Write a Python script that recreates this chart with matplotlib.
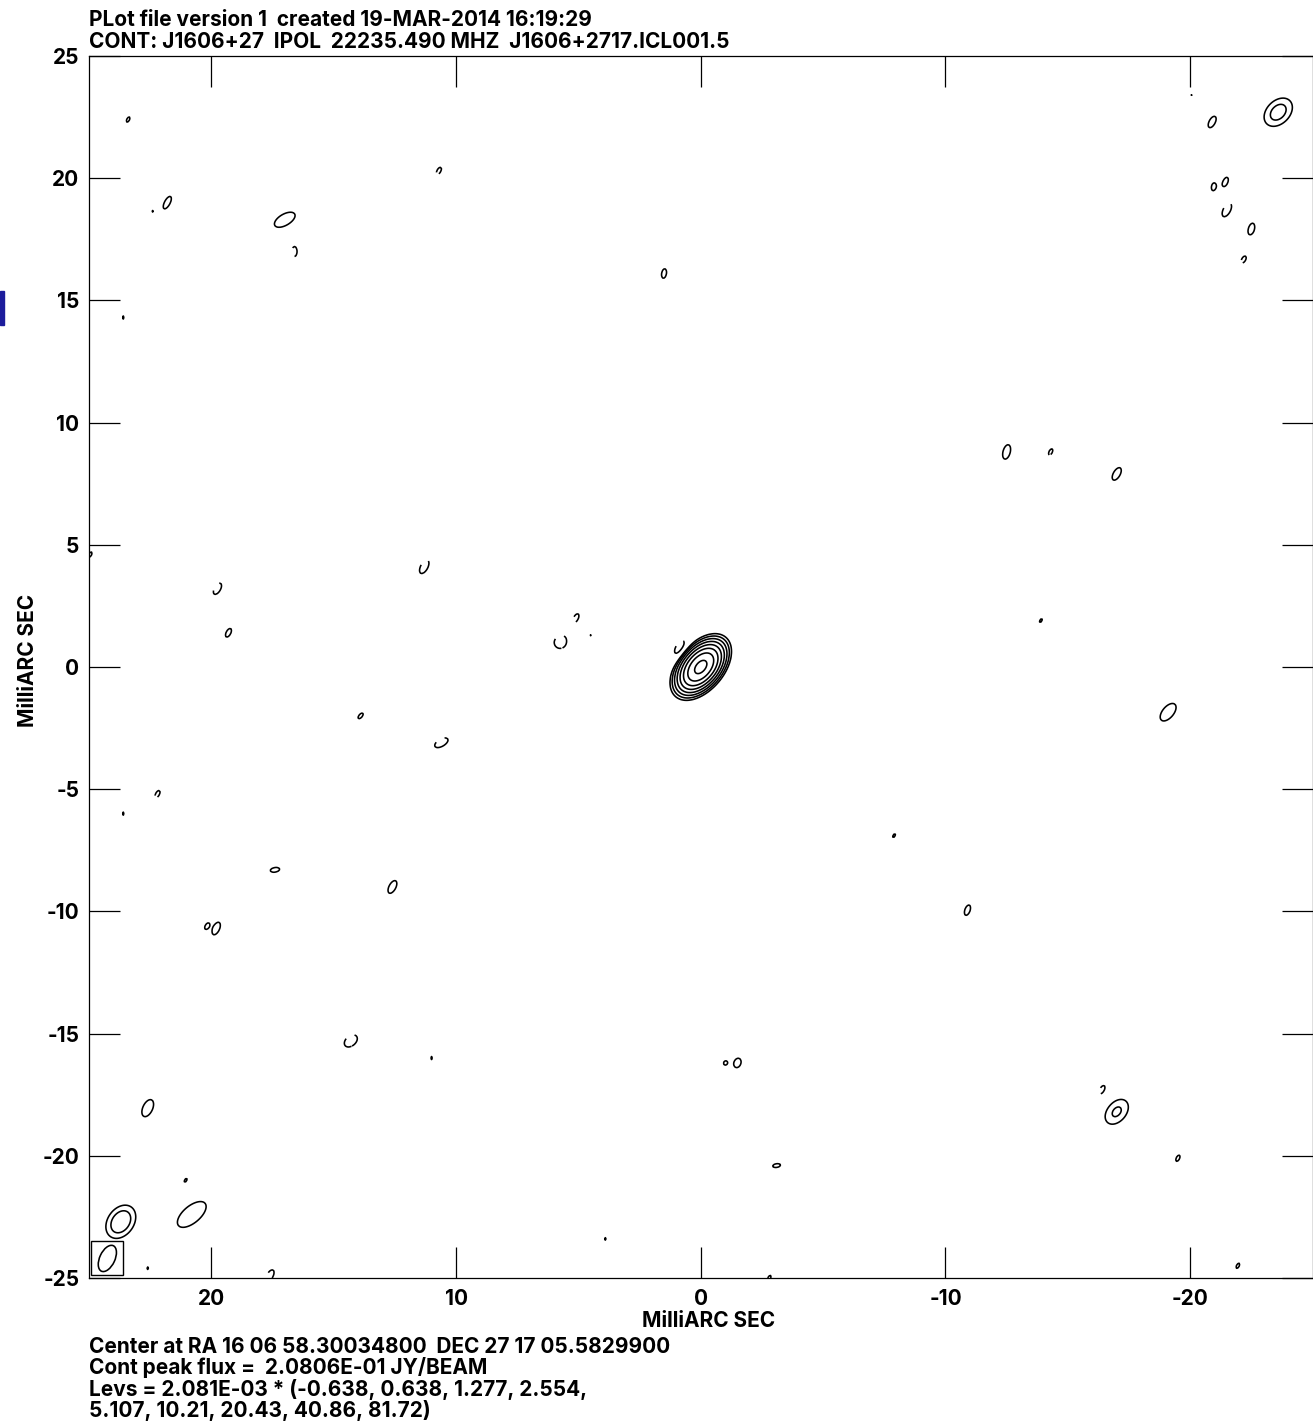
import numpy as np
import matplotlib
matplotlib.use("Agg")
import matplotlib.pyplot as plt
from matplotlib.patches import Ellipse, Rectangle

plt.rcParams['font.family'] = ['Inter', 'Liberation Sans', 'DejaVu Sans']
plt.rcParams['font.weight'] = 'bold'
plt.rcParams['axes.unicode_minus'] = False
plt.rcParams['lines.dashed_pattern'] = [9, 6]

# contour levels (AIPS style: base * multipliers)
base = 2.081e-03
peak = 2.0806e-01
lev_mult = [-0.638, 0.638, 1.277, 2.554, 5.107, 10.21, 20.43, 40.86, 81.72]

# main component (mas, units of base)
core_x, core_y = 0.0, 0.0
core_amp = peak / base
core_smaj, core_smin, core_pa = 0.5, 0.3, 40.0

# noise peaks (x, y in mas; amp in units of base)
blob_x = [23.4, 22.4, 21.8, 17.0, 1.5, 23.6, -19.8, -20.9, -23.6, -20.95,
          -21.45, -22.5, -12.5, -17.0, -13.9, -19.1, 24.95, 19.3, 4.5, 13.9,
          23.6, 17.4, 12.6, 20.2, 19.8, -7.9, -10.9, 11.0, 22.6, 21.05,
          20.8, 23.7, 22.6, 3.9, -1.0, -1.5, -3.1, -2.8, -17.0, -19.5,
          -21.95,
          16.6, 10.7, -20.0, -21.5, -22.2, -14.3, 19.75, 11.3, 5.75, 5.1,
          0.86, 10.6, 22.2, 14.3, 17.6, -16.4]
blob_y = [22.4, 18.65, 19.0, 18.3, 16.1, 14.3, 23.0, 22.3, 22.7, 19.65,
          19.85, 17.9, 8.8, 7.9, 1.9, -1.85, 4.6, 1.4, 1.3, -2.0,
          -6.0, -8.3, -9.0, -10.6, -10.7, -6.9, -9.95, -16.0, -18.05, -21.0,
          -22.4, -22.7, -24.6, -23.4, -16.2, -16.2, -20.4, -25.0, -18.2, -20.1,
          -24.5,
          17.0, 20.3, 23.3, 18.7, 16.7, 8.8, 3.2, 4.1, 1.0, 2.0,
          0.78, -3.1, -5.2, -15.3, -24.9, -17.3]
blob_amp = [0.66, 0.643, 0.8, 1.1, 0.72, 0.645, 0.645, 0.75, 1.75, 0.72,
            0.76, 0.76, 0.8, 0.78, 0.65, 1.0, 0.66, 0.7, 0.645, 0.67,
            0.645, 0.7, 0.78, 0.645, 0.77, 0.65, 0.72, 0.645, 0.9, 0.65,
            1.1, 2.2, 0.645, 0.645, 0.72, 0.82, 0.68, 0.66, 1.45, 0.67,
            0.66,
            -0.75, -0.68, -0.7, -0.8, -0.7, -0.67, -0.75, -0.8, -0.8, -0.7,
            -0.85, -0.8, -0.68, -0.8, -0.75, -0.7]
blob_smaj = [0.45, 0.15, 0.42, 0.45, 0.4, 0.45, 0.2, 0.45, 0.47, 0.3,
             0.33, 0.45, 0.45, 0.45, 0.45, 0.45, 0.45, 0.45, 0.3, 0.45,
             0.45, 0.45, 0.45, 0.2, 0.45, 0.45, 0.45, 0.45, 0.45, 0.45,
             0.68, 0.47, 0.45, 0.45, 0.15, 0.28, 0.45, 0.45, 0.45, 0.45,
             0.45,
             0.36, 0.45, 0.45, 0.45, 0.45, 0.45, 0.45, 0.45, 0.35, 0.45,
             0.45, 0.45, 0.45, 0.45, 0.45, 0.45]
blob_smin = [0.22, 0.08, 0.17, 0.22, 0.2, 0.22, 0.1, 0.22, 0.33, 0.16,
             0.16, 0.22, 0.22, 0.22, 0.22, 0.24, 0.22, 0.22, 0.15, 0.22,
             0.22, 0.22, 0.22, 0.1, 0.22, 0.22, 0.22, 0.22, 0.24, 0.22,
             0.33, 0.34, 0.22, 0.22, 0.12, 0.2, 0.22, 0.22, 0.3, 0.22,
             0.22,
             0.18, 0.22, 0.22, 0.22, 0.22, 0.22, 0.22, 0.22, 0.35, 0.22,
             0.22, 0.22, 0.22, 0.3, 0.22, 0.22]
blob_pa = [28, 28, 28, 60, 10, 0, 28, 28, 45, 10,
           20, 15, 15, 30, 28, 40, 28, 28, 28, 40,
           0, 80, 28, 28, 25, 28, 20, 0, 25, 28,
           50, 35, 28, 28, 20, 20, 80, 28, 40, 28,
           28,
           0, 28, 28, 28, 28, 28, 30, 28, 0, 28,
           30, 60, 28, 50, 28, 28]

# restoring beam (FWHM, mas)
beam_maj, beam_min, beam_pa = 1.15, 0.62, 25.0


def gauss(X, Y, x0, y0, amp, smaj, smin, pa):
    t = np.deg2rad(pa)
    dx = X - x0
    dy = Y - y0
    u = -dx * np.sin(t) + dy * np.cos(t)
    v = dx * np.cos(t) + dy * np.sin(t)
    return amp * np.exp(-0.5 * ((u / smaj) ** 2 + (v / smin) ** 2))


g = np.linspace(-25, 25, 1001)
X, Y = np.meshgrid(g, g)
Z = gauss(X, Y, core_x, core_y, core_amp, core_smaj, core_smin, core_pa)
for i in range(len(blob_x)):
    Z += gauss(X, Y, blob_x[i], blob_y[i], blob_amp[i],
               blob_smaj[i], blob_smin[i], blob_pa[i])
Z = Z * base

levels = [m * base for m in lev_mult]
neg_levels = [l for l in levels if l < 0]
pos_levels = [l for l in levels if l > 0]

fig = plt.figure(figsize=(13.13, 14.22), dpi=100)
ax = fig.add_axes([89 / 1313, 1 - 1278 / 1422, 1223.5 / 1313, 1222 / 1422])

ax.contour(X, Y, Z, levels=pos_levels, colors='k', linewidths=1.15,
           linestyles='solid')
ax.contour(X, Y, Z, levels=neg_levels, colors='k', linewidths=1.15,
           linestyles='dashed')

# beam in its box
ax.add_patch(Rectangle((23.6, -24.88), 1.3, 1.38, fill=False, ec='k', lw=1.0))
ax.add_patch(Ellipse((24.25, -24.2), beam_min, beam_maj, angle=beam_pa,
                     fill=False, ec='k', lw=1.15))

fs = 15
ax.set_xlim(25, -25)
ax.set_ylim(-25, 25)
ax.set_xticks([20, 10, 0, -10, -20])
ax.set_yticks(np.arange(-25, 26, 5))
ax.tick_params(direction='in', length=22, width=0.9, top=True, right=True,
               labelsize=fs, pad=7)
ax.tick_params(axis='x', pad=8)
for sp in ax.spines.values():
    sp.set_linewidth(0.9)

fig.text(709 / 1313, 1 - 1327 / 1422, 'MilliARC SEC', ha='center',
         va='baseline', fontsize=fs, fontweight='bold')
fig.text(28 / 1313, 1 - 660 / 1422, 'MilliARC SEC', ha='center', va='center',
         rotation=90, fontsize=fs, fontweight='bold')

fig.text(89 / 1313, 1 - 26 / 1422,
         'PLot file version 1  created 19-MAR-2014 16:19:29',
         fontsize=fs, fontweight='bold', va='baseline')
fig.text(89 / 1313, 1 - 48 / 1422,
         'CONT: J1606+27  IPOL  22235.490 MHZ  J1606+2717.ICL001.5',
         fontsize=fs, fontweight='bold', va='baseline')

bottom_lines = [
    'Center at RA 16 06 58.30034800  DEC 27 17 05.5829900',
    'Cont peak flux =  2.0806E-01 JY/BEAM',
    'Levs = 2.081E-03 * (-0.638, 0.638, 1.277, 2.554,',
    '5.107, 10.21, 20.43, 40.86, 81.72)',
]
for k, line in enumerate(bottom_lines):
    fig.text(89 / 1313, 1 - (1353 + 21.4 * k) / 1422, line, fontsize=fs,
             fontweight='bold', va='baseline')

# stray blue mark at the left edge
fig.patches.append(Rectangle((0, 1 - 325 / 1422), 4 / 1313, 34 / 1422,
                             transform=fig.transFigure, color='#1c1c9c'))

fig.savefig('out.png', dpi=100)
